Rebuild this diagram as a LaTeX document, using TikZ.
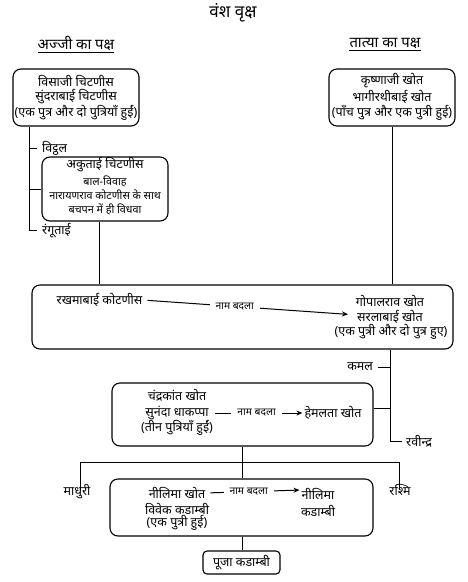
\documentclass[tikz,border=0pt]{standalone}
\usepackage{fontspec}
\setmainfont[Script=Devanagari]{Noto Sans}
\usetikzlibrary{arrows.meta}
\begin{document}
\begin{tikzpicture}[x=1pt,y=-1pt,
  box/.style={draw, rounded corners=8pt, line width=1.1pt, inner sep=0pt},
  txt/.style={font=\fontsize{12.5}{14}\selectfont, inner sep=0pt},
  sml/.style={font=\fontsize{10.8}{12}\selectfont, inner sep=0pt},
  lbl/.style={font=\fontsize{10.3}{11}\selectfont, fill=white, inner sep=0pt, inner xsep=6pt, minimum height=12pt},
  ln/.style={line width=1pt},
  arr/.style={line width=1pt, -{Stealth[length=6pt,width=5pt]}}
]
\useasboundingbox (0,0) rectangle (467,582);
% title and headings
\node[txt, font=\fontsize{17}{20}\selectfont] (title) at (233,13) {वंश वृक्ष};
\node[txt, font=\fontsize{14.8}{16}\selectfont] (hl) at (76,43) {अज्जी का पक्ष};
\node[txt, font=\fontsize{14.8}{16}\selectfont] (hr) at (385,43) {तात्या का पक्ष};
\draw[ln] ([yshift=-2pt]hl.south west) -- ([yshift=-2pt]hl.south east);
\draw[ln] ([yshift=-2pt]hr.south west) -- ([yshift=-2pt]hr.south east);
% top boxes
\node[box, minimum width=126pt, minimum height=57pt] (b1) at (76,97.5) {};
\node[txt] (b1a) at (76,81) {विसाजी चिटणीस};
\node[txt] (b1b) at (76,97) {सुंदराबाई चिटणीस};
\node[txt] (b1c) at (76,113) {(एक पुत्र और दो पुत्रियाँ हुईं)};
\node[box, minimum width=126pt, minimum height=57pt] (b2) at (392,97.5) {};
\node[txt] (b2a) at (392,81) {कृष्णाजी खोत};
\node[txt] (b2b) at (392,97) {भागीरथीबाई खोत};
\node[txt] (b2c) at (392,113) {(पाँच पुत्र और एक पुत्री हुई)};
% left children
\node[txt, anchor=west] (vit) at (42,148) {विट्ठल};
\node[box, minimum width=126pt, minimum height=64pt] (ak) at (105,189) {};
\node[txt] (aka) at (105,165) {अकुताई चिटणीस};
\node[sml] (akb) at (105,181) {बाल-विवाह};
\node[sml] (akc) at (105,195) {नारायणराव कोटणीस के साथ};
\node[sml] (akd) at (105,209) {बचपन में ही विधवा};
\node[txt, anchor=west] (rang) at (42,231) {रंगूताई};
\coordinate (v1) at (29,148);
\coordinate (v2) at (29,189);
\coordinate (v3) at (29,230);
\draw[ln] (b1.south -| v1) -- (v3) -- ([xshift=-5pt]rang.west |- v3);
\draw[ln] (v1) -- ([xshift=-5pt]vit.west);
\draw[ln] (v2) -- (ak.west);
% big box
\node[box, minimum width=421pt, minimum height=64pt] (big) at (242.5,317) {};
\node[txt] (rk) at (99.5,300) {रखमाबाई कोटणीस};
\node[txt] (gp) at (390,301) {गोपालराव खोत};
\node[txt] (sb) at (390,317) {सरलाबाई खोत};
\node[txt] (sbc) at (391,332) {(एक पुत्री और दो पुत्र हुए)};
\draw[arr, shorten <=5pt, shorten >=9pt] (rk.east) -- node[lbl, pos=0.43] {नाम बदला} (sb.west |- 0,315);
\draw[ln] ([xshift=-6pt]ak.south) -- ([xshift=-6pt]ak.south |- big.north);
\draw[ln] (b2.south) -- (b2.south |- big.north);
% right children of big box
\coordinate (r1) at (390,367);
\coordinate (r2) at (390,408);
\coordinate (r3) at (390,441);
\node[txt, anchor=east] (kamal) at (373,367) {कमल};
\node[txt, anchor=west] (rav) at (406,441) {रवीन्द्र};
\draw[ln] (big.south -| r1) -- (r3) -- ([xshift=-4pt]rav.west |- r3);
\draw[ln] (r1) -- ([xshift=5pt]kamal.east);
% box 3
\node[box, minimum width=261pt, minimum height=63pt] (b3) at (242.5,414.5) {};
\draw[ln] (b3.east |- r2) -- (r2);
\node[txt] (ck) at (177,395) {चंद्रकांत खोत};
\node[txt] (sun) at (177,413) {सुनंदा धाकप्पा};
\node[txt] (sunc) at (177,428) {(तीन पुत्रियाँ हुईं)};
\node[txt] (hem) at (333,413) {हेमलता खोत};
\draw[arr, shorten <=6pt, shorten >=2pt] (sun.east) -- node[lbl] {नाम बदला} (hem.west);
% daughters
\coordinate (h0) at (242,462);
\coordinate (hL) at (80,462);
\coordinate (hR) at (399,462);
\node[txt] (mad) at (77,492) {माधुरी};
\node[txt] (ras) at (400,490) {रश्मि};
\draw[ln] (b3.south -| h0) -- (h0);
\draw[ln] ([yshift=-6pt]mad.north -| hL) -- (hL) -- (hR) -- ([yshift=-6pt]ras.north -| hR);
% box 4
\node[box, minimum width=263pt, minimum height=57pt] (b4) at (241.5,507.5) {};
\draw[ln] (h0) -- (b4.north -| h0);
\node[txt] (nk) at (177,493) {नीलिमा खोत};
\node[txt] (vk) at (177,509) {विवेक कडाम्बी};
\node[txt] (vkc) at (177,523) {(एक पुत्री हुई)};
\node[txt] (nn) at (318,494) {नीलिमा};
\node[txt] (nn2) at (318,511) {कडाम्बी};
\draw[arr, shorten <=5pt, shorten >=2pt] (nk.east) -- node[lbl, pos=0.45] {नाम बदला} ([yshift=4pt]nn.west);
% box 5
\node[box, rounded corners=4pt, minimum width=77pt, minimum height=23pt, font=\fontsize{12.5}{14}\selectfont] (b5) at (241.5,562.5) {पूजा कडाम्बी};
\draw[ln] (b4.south -| h0) -- (b5.north -| h0);
\end{tikzpicture}
\end{document}
